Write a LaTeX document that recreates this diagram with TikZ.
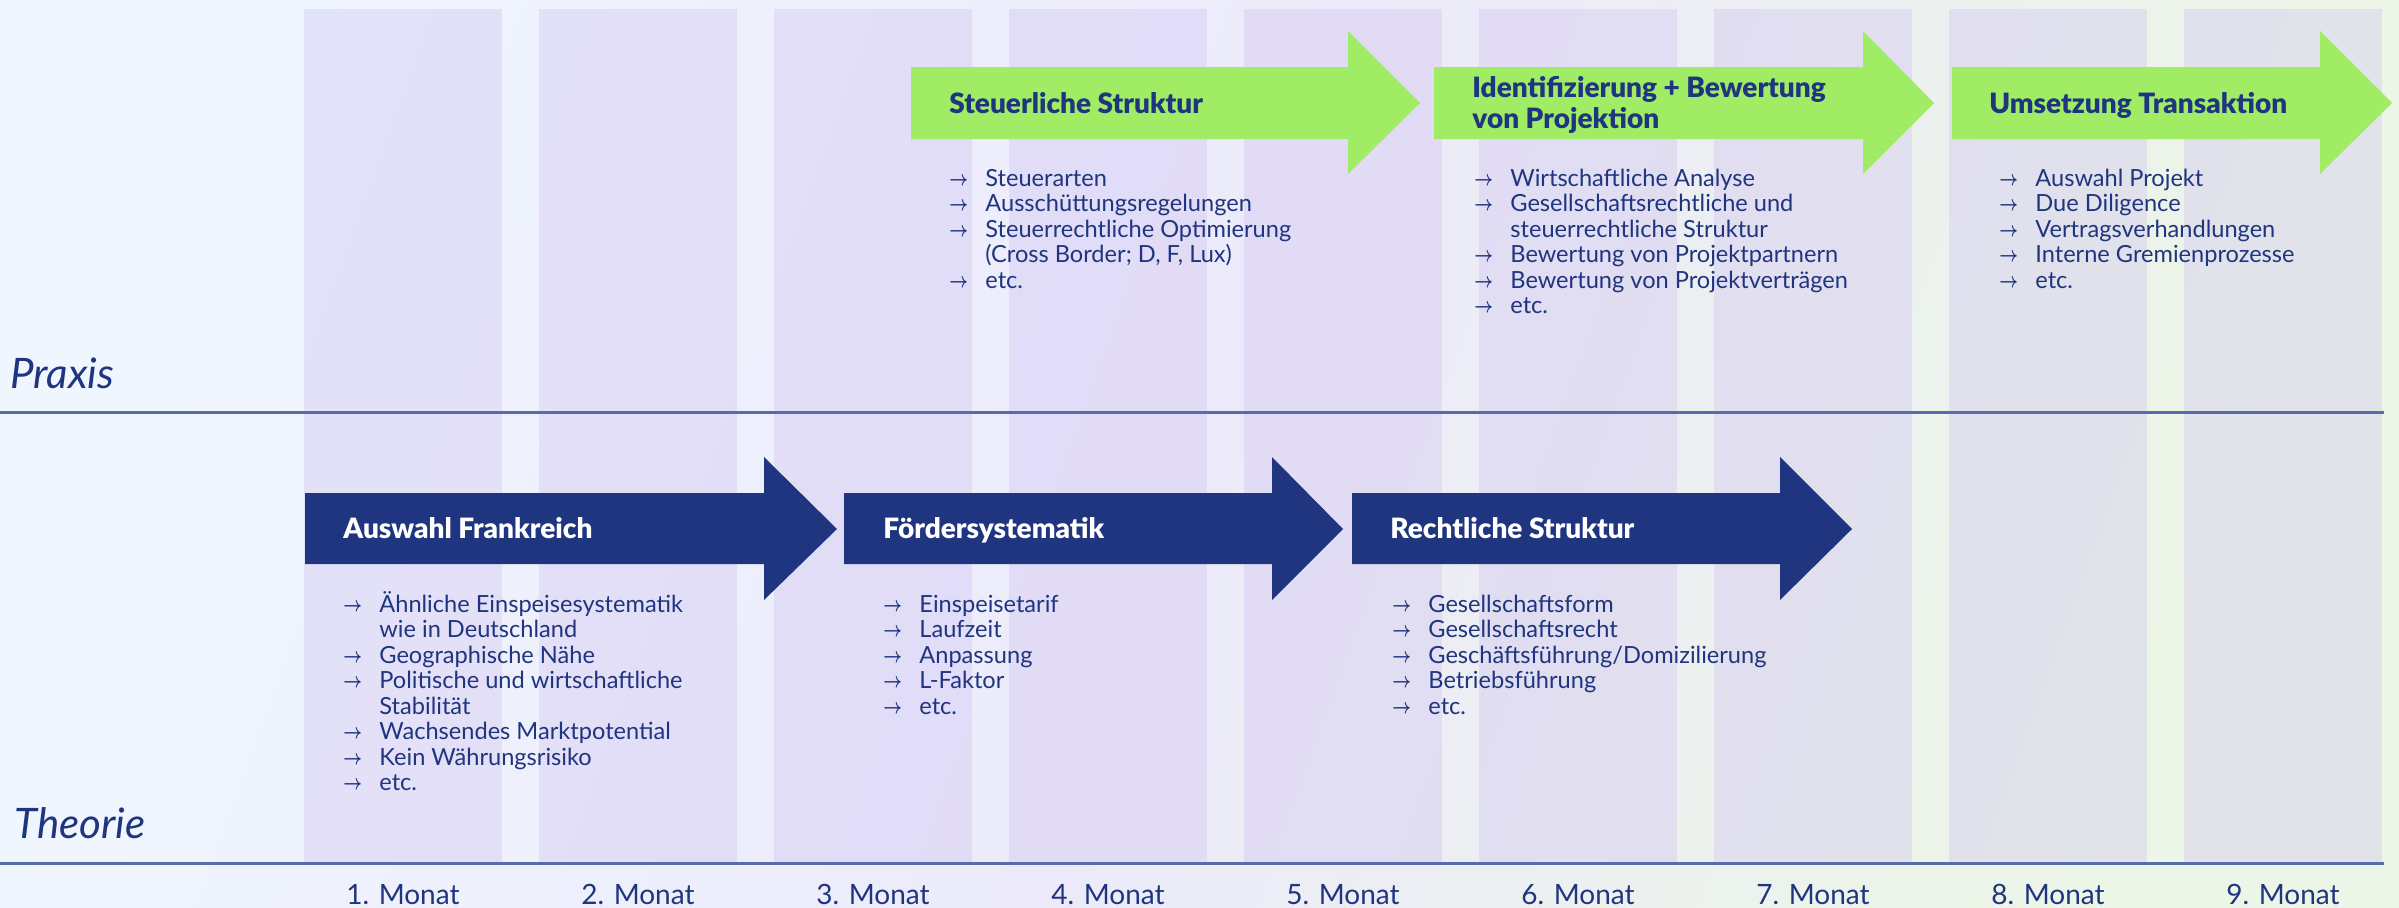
\documentclass[tikz,border=0pt]{standalone}
\usepackage{fontspec}
\setmainfont{Lato}[BoldFont=* Black]
\usetikzlibrary{positioning}
\definecolor{navy}{RGB}{31,53,128}
\definecolor{lime}{RGB}{160,236,100}
\definecolor{bgblue}{RGB}{240,246,254}
\definecolor{bglav}{RGB}{236,234,250}
\definecolor{bggreen}{RGB}{236,246,230}
\definecolor{colfill}{RGB}{205,192,240}
\definecolor{rulecol}{RGB}{88,108,172}

% small list arrow
\newcommand{\bul}{\makebox[18pt][l]{\raisebox{0.3pt}{\fontsize{8}{10}\selectfont\boldmath\scalebox{0.95}[1.3]{$\rightarrow$}}}}
\newcommand{\ind}{\hspace*{18pt}}

\begin{document}
\begin{tikzpicture}[x=0.5pt,y=-0.5pt,
    phasetitle/.style={anchor=base west,inner sep=0,font=\fontsize{14}{15.5}\selectfont\bfseries},
    itemlist/.style={anchor=base west,inner sep=0,text=navy,font=\fontsize{11.8}{12.75}\selectfont},
    lanelabel/.style={anchor=base west,inner sep=0,text=navy,font=\fontsize{21}{24}\selectfont\itshape},
    monthlabel/.style={anchor=base,inner sep=0,text=navy,font=\fontsize{14}{17}\selectfont}]
\useasboundingbox (0,0) rectangle (2399,907);

% Background
\shade[left color=bgblue,right color=bggreen,middle color=bglav,shading angle=70] (0,0) rectangle (2399,907);

% Month columns and labels
\foreach \i/\lab in {0/1,1/2,2/3,3/4,4/5,5/6,6/7,7/8,8/9} {
    \fill[colfill,opacity=0.35] ({304+235*\i},9) rectangle ({502+235*\i},863);
    \node[monthlabel] (m\lab) at ({403+235*\i},904) {\lab. Monat};
}

% Lane separators
\coordinate (sepA) at (0,412);
\coordinate (sepB) at (2384,412);
\coordinate (baseA) at (0,863);
\coordinate (baseB) at (2384,863);
\draw[rulecol,line width=1.5pt] (sepA) -- (sepB);
\draw[rulecol,line width=1.5pt] (baseA) -- (baseB);

\node[lanelabel] (praxis) at (10,388) {Praxis};
\node[lanelabel] (theorie) at (14,838) {Theorie};

% Praxis arrows (green)
\fill[lime] (911,67) -- (1348,67) -- (1348,31) -- (1420,103) -- (1348,174) -- (1348,139) -- (911,139) -- cycle;
\fill[lime] (1434,67) -- (1863,67) -- (1863,31) -- (1934,103) -- (1863,174) -- (1863,139) -- (1434,139) -- cycle;
\fill[lime] (1952,67) -- (2320,67) -- (2320,31) -- (2392,103) -- (2320,174) -- (2320,139) -- (1952,139) -- cycle;

\node[phasetitle,text=navy] (steuer) at (949,113) {Steuerliche Struktur};
\node[phasetitle,text=navy] (ident) at (1472,97) {\begin{tabular}[t]{@{}l@{}}Identifizierung + Bewertung\\von Projektion\end{tabular}};
\node[phasetitle,text=navy] (umsetz) at (1989,113) {Umsetzung Transaktion};

\node[itemlist] (steuerlist) at (949,186) {\begin{tabular}[t]{@{}l@{}}
\bul Steuerarten\\
\bul Ausschüttungsregelungen\\
\bul Steuerrechtliche Optimierung\\
\ind (Cross Border; D, F, Lux)\\
\bul etc.
\end{tabular}};
\node[itemlist] (identlist) at (1474,186) {\begin{tabular}[t]{@{}l@{}}
\bul Wirtschaftliche Analyse\\
\bul Gesellschaftsrechtliche und\\
\ind steuerrechtliche Struktur\\
\bul Bewertung von Projektpartnern\\
\bul Bewertung von Projektverträgen\\
\bul etc.
\end{tabular}};
\node[itemlist] (umsetzlist) at (1999,186) {\begin{tabular}[t]{@{}l@{}}
\bul Auswahl Projekt\\
\bul Due Diligence\\
\bul Vertragsverhandlungen\\
\bul Interne Gremienprozesse\\
\bul etc.
\end{tabular}};

% Theorie arrows (navy)
\fill[navy] (305,493) -- (764,493) -- (764,457) -- (837,529) -- (764,600) -- (764,564) -- (305,564) -- cycle;
\fill[navy] (844,493) -- (1272,493) -- (1272,457) -- (1343,529) -- (1272,600) -- (1272,564) -- (844,564) -- cycle;
\fill[navy] (1352,493) -- (1780,493) -- (1780,457) -- (1852,529) -- (1780,600) -- (1780,564) -- (1352,564) -- cycle;

\node[phasetitle,text=white] (auswahl) at (343,538) {Auswahl Frankreich};
\node[phasetitle,text=white] (foerder) at (883,538) {Fördersystematik};
\node[phasetitle,text=white] (recht) at (1390,538) {Rechtliche Struktur};

\node[itemlist] (auswahllist) at (343,612) {\begin{tabular}[t]{@{}l@{}}
\bul Ähnliche Einspeisesystematik\\
\ind wie in Deutschland\\
\bul Geographische Nähe\\
\bul Politische und wirtschaftliche\\
\ind Stabilität\\
\bul Wachsendes Marktpotential\\
\bul Kein Währungsrisiko\\
\bul etc.
\end{tabular}};
\node[itemlist] (foerderlist) at (883,612) {\begin{tabular}[t]{@{}l@{}}
\bul Einspeisetarif\\
\bul Laufzeit\\
\bul Anpassung\\
\bul L-Faktor\\
\bul etc.
\end{tabular}};
\node[itemlist] (rechtlist) at (1392,612) {\begin{tabular}[t]{@{}l@{}}
\bul Gesellschaftsform\\
\bul Gesellschaftsrecht\\
\bul Geschäftsführung/Domizilierung\\
\bul Betriebsführung\\
\bul etc.
\end{tabular}};

\end{tikzpicture}
\end{document}
